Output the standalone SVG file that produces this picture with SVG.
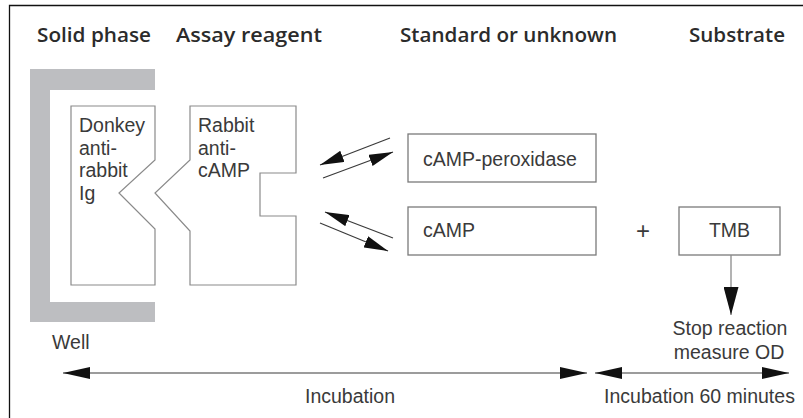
<svg xmlns="http://www.w3.org/2000/svg" width="803" height="418" viewBox="0 0 803 418">
  <style>
    .head { font-family: "Open Sans", "Liberation Sans", Arial, sans-serif; font-size: 19.5px; font-weight: 600; fill: #2b2b2b; }
    .lbl { font-family: "Liberation Sans", Arial, sans-serif; font-size: 19.5px; fill: #3a3a3a; }
    .mid { text-anchor: middle; }
    .box { fill: #ffffff; stroke: #7a7a7a; stroke-width: 1.3; }
    .ab { fill: #ffffff; stroke: #8a8a8a; stroke-width: 1.2; }
    .conn { fill: none; stroke: #3a3a3a; stroke-width: 1.2; }
    .stem { fill: none; stroke: #8a8a8a; stroke-width: 1.3; }
  </style>
  <defs>
    <marker id="bigHead" markerUnits="userSpaceOnUse" markerWidth="27" markerHeight="12" refX="27" refY="6" orient="auto-start-reverse">
      <path d="M0,0 L27,6 L0,12 z" fill="#111"/>
    </marker>
    <marker id="smallHead" markerUnits="userSpaceOnUse" markerWidth="24" markerHeight="12" refX="24" refY="6" orient="auto">
      <path d="M0,0 L24,6 L0,12 z" fill="#111"/>
    </marker>
    <marker id="downHead" markerUnits="userSpaceOnUse" markerWidth="28" markerHeight="15" refX="28" refY="7.5" orient="auto">
      <path d="M0,0 L28,7.5 L0,15 z" fill="#111"/>
    </marker>
  </defs>

  <rect width="803" height="418" fill="#ffffff"/>
  <!-- frame edges -->
  <path d="M9.5,418 V5.5 H803" fill="none" stroke="#111" stroke-width="1.3"/>

  <!-- column headings -->
  <g id="headings">
    <text class="head" x="37" y="42" textLength="114" lengthAdjust="spacingAndGlyphs">Solid phase</text>
    <text class="head" x="176" y="42" textLength="146" lengthAdjust="spacingAndGlyphs">Assay reagent</text>
    <text class="head" x="400" y="42" textLength="217" lengthAdjust="spacingAndGlyphs">Standard or unknown</text>
    <text class="head" x="689" y="42" textLength="96" lengthAdjust="spacingAndGlyphs">Substrate</text>
  </g>

  <!-- microplate well -->
  <g id="well">
    <path d="M30,69 H155 V90 H50 V302 H155 V322 H30 z" fill="#bdbec1"/>
    <text class="lbl" x="52" y="349">Well</text>
  </g>

  <!-- donkey anti-rabbit antibody -->
  <g id="donkey">
    <path class="ab" d="M71,106 H155 V160 L119,193 L155,229 V285 H71 z"/>
    <text class="lbl" x="79" y="132">Donkey</text>
    <text class="lbl" x="79" y="155">anti-</text>
    <text class="lbl" x="79" y="177">rabbit</text>
    <text class="lbl" x="79" y="200">Ig</text>
  </g>

  <!-- rabbit anti-cAMP antibody -->
  <g id="rabbit">
    <path class="ab" d="M190,106 H296 V173 H260 V216 H296 V285 H190 V231 L155,193 L190,160 z"/>
    <text class="lbl" x="198" y="132">Rabbit</text>
    <text class="lbl" x="198" y="155">anti-</text>
    <text class="lbl" x="198" y="177">cAMP</text>
  </g>

  <g id="camp-peroxidase">
    <rect class="box" x="408" y="134" width="188" height="48"/>
    <text class="lbl" x="423" y="166">cAMP-peroxidase</text>
  </g>

  <g id="camp">
    <rect class="box" x="408" y="207" width="188" height="48"/>
    <text class="lbl" x="423" y="237">cAMP</text>
  </g>

  <g id="plus">
    <text class="lbl mid" x="643" y="239" style="font-size:24px">+</text>
  </g>

  <g id="tmb">
    <rect class="box" x="679" y="207" width="101" height="48"/>
    <text class="lbl mid" x="729.5" y="237">TMB</text>
  </g>

  <g id="stop">
    <text class="lbl mid" x="730" y="335">Stop reaction</text>
    <text class="lbl mid" x="729" y="359">measure OD</text>
  </g>

  <g id="timeline-labels">
    <text class="lbl mid" x="350" y="403">Incubation</text>
    <text class="lbl mid" x="699.5" y="403">Incubation 60 minutes</text>
  </g>

  <!-- connectors -->
  <g id="connectors">
    <line class="conn" x1="390" y1="138" x2="320" y2="165" marker-end="url(#smallHead)"/>
    <line class="conn" x1="323" y1="178" x2="393" y2="152" marker-end="url(#smallHead)"/>
    <line class="conn" x1="393" y1="238" x2="325" y2="212" marker-end="url(#smallHead)"/>
    <line class="conn" x1="320" y1="223" x2="388" y2="251" marker-end="url(#smallHead)"/>
    <line class="stem" x1="731" y1="255" x2="731" y2="315" marker-end="url(#downHead)"/>
    <line class="conn" x1="63" y1="373" x2="587" y2="373" marker-start="url(#bigHead)" marker-end="url(#bigHead)"/>
    <line class="conn" x1="595" y1="373" x2="789" y2="373" marker-start="url(#bigHead)" marker-end="url(#bigHead)"/>
  </g>
</svg>
